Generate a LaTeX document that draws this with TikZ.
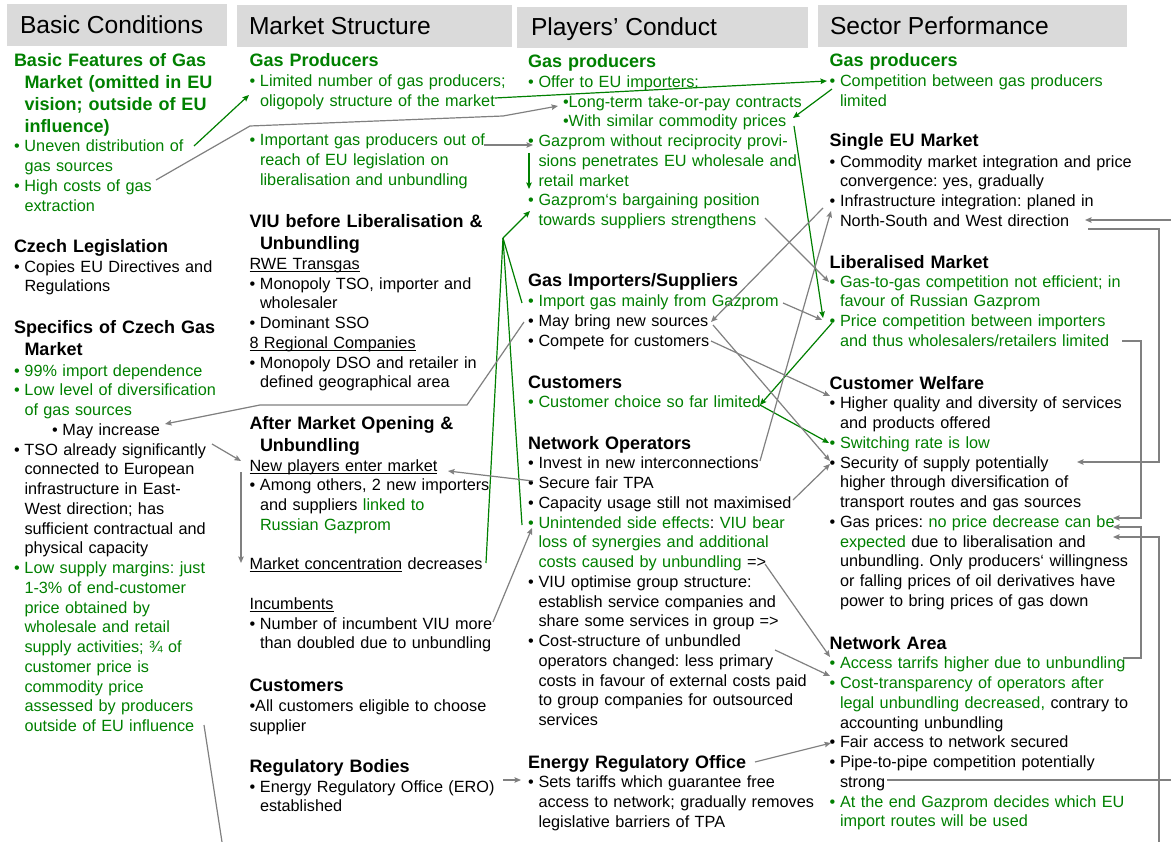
\documentclass[tikz,border=0pt]{standalone}
\usepackage{fontspec}
\setmainfont{Liberation Sans}
\usetikzlibrary{arrows.meta}
\definecolor{gr}{RGB}{0,128,0}
\definecolor{ln}{RGB}{128,128,128}
\definecolor{hdr}{RGB}{218,218,218}
\newcommand\bu{\makebox[10.5pt][l]{\textbullet}}
\newcommand\ind{\hspace*{10.5pt}}
\newcommand\g[1]{\textcolor{gr}{#1}}
\newcommand\ulx[1]{\leavevmode\setbox0\hbox{#1}\rlap{\rule[-2.3pt]{\wd0}{0.8pt}}\box0\relax}
\newcommand\hdfont{\fontsize{18.0}{22}\selectfont\bfseries\frenchspacing}
\newcommand\bdfont{\fontsize{16.25}{19.75}\selectfont\frenchspacing}
\tikzset{
  hbox/.style={fill=hdr, draw=none, inner sep=0pt, outer sep=0pt},
  ttl/.style={anchor=base west, inner sep=0pt, outer sep=0pt, font=\fontsize{24.6}{28}\selectfont},
  hd/.style={anchor=base west, inner sep=0pt, outer sep=0pt, text width=420pt, align=left, font=\hdfont},
  body/.style={anchor=base west, inner sep=0pt, outer sep=0pt, text width=420pt, align=left, font=\bdfont},
  gline/.style={draw=gr, line width=1.2pt},
  garr/.style={gline, -{Stealth[length=6.5pt,width=5.5pt,inset=1pt]}},
  kline/.style={draw=ln, line width=1.2pt},
  karr/.style={kline, -{Stealth[length=6.5pt,width=5.5pt,inset=1pt]}}
}
\begin{document}
\lineskiplimit=-50pt
\begin{tikzpicture}[x=1pt,y=-1pt]
\useasboundingbox (0,0) rectangle (1171,842);
\fill[white] (0,0) rectangle (1171,842);

% header boxes
\node[hbox, minimum width=220pt, minimum height=42pt] (hb1) at (117,25) {};
\node[hbox, minimum width=275pt, minimum height=42pt] (hb2) at (374.5,26) {};
\node[hbox, minimum width=291pt, minimum height=41pt] (hb3) at (662.5,27.5) {};
\node[hbox, minimum width=309pt, minimum height=42pt] (hb4) at (972.5,26) {};
\node[ttl] (t1) at (20,34) {Basic Conditions};
\node[ttl] (t2) at (249,35) {Market Structure};
\node[ttl] (t3) at (531,36) {Players’ Conduct};
\node[ttl] (t4) at (830,35) {Sector Performance};

% column 1
\node[hd, text=gr] (h11) at (14,66.5) {Basic Features of Gas\\\ind Market (omitted in EU\\\ind vision; outside of EU\\\ind influence)};
\node[body, text=gr] (b11) at (14,152) {\bu Uneven distribution of\\\ind gas sources\\\bu High costs of gas\\\ind extraction};
\node[hd] (h12) at (14,252.5) {Czech Legislation};
\node[body] (b12) at (14,272.2) {\bu Copies EU Directives and\\\ind Regulations};
\node[hd] (h13) at (14,333.2) {Specifics of Czech Gas\\\ind Market};
\node[body] (b13) at (14,376.2) {\g{\bu 99\% import dependence}\\
\g{\bu Low level of diversification}\\
\g{\ind of gas sources}\\
\hspace*{38pt}\bu May increase\\
\bu TSO already significantly\\
\ind connected to European\\
\ind infrastructure in East-\\
\ind West direction; has\\
\ind sufficient contractual and\\
\ind physical capacity\\
\g{\bu Low supply margins: just}\\
\g{\ind 1-3\% of end-customer}\\
\g{\ind price obtained by}\\
\g{\ind wholesale and retail}\\
\g{\ind supply activities; ¾ of}\\
\g{\ind customer price is}\\
\g{\ind commodity price}\\
\g{\ind assessed by producers}\\
\g{\ind outside of EU influence}};

% column 2
\node[hd, text=gr] (h21) at (249.5,66.5) {Gas Producers};
\node[body, text=gr] (b21) at (249.5,86.5) {\bu Limited number of gas producers;\\
\ind oligopoly structure of the market\\
\mbox{}\\
\bu Important gas producers out of\\
\ind reach of EU legislation on\\
\ind liberalisation and unbundling};
\node[hd] (h22) at (249.5,227.5) {VIU before Liberalisation \&\\\ind Unbundling};
\node[body] (b22) at (249.5,269.5) {\ulx{RWE Transgas}\\
\bu Monopoly TSO, importer and\\
\ind wholesaler\\
\bu Dominant SSO\\
\ulx{8 Regional Companies}\\
\bu Monopoly DSO and retailer in\\
\ind defined geographical area};
\node[hd] (h23) at (249.5,429.8) {After Market Opening \&\\\ind Unbundling};
\node[body] (b23) at (249.5,471.2) {\ulx{New players enter market}\\
\bu Among others, 2 new importers\\
\ind and suppliers \g{linked to}\\
\g{\ind Russian Gazprom}\\
\mbox{}\\
\ulx{Market concentration} decreases\\
\mbox{}\\
\ulx{Incumbents}\\
\bu Number of incumbent VIU more\\
\ind than doubled due to unbundling};
\node[hd] (h24) at (249.5,691.5) {Customers};
\node[body] (b24) at (249.5,711.3) {\textbullet All customers eligible to choose\\supplier};
\node[hd] (h25) at (249.5,772.5) {Regulatory Bodies};
\node[body] (b25) at (249.5,792.2) {\bu Energy Regulatory Office (ERO)\\\ind established};

% column 3
\node[hd, text=gr] (h31) at (528,67.5) {Gas producers};
\node[body, text=gr] (b31) at (528,87.3) {\bu Offer to EU importers:\\
\hspace*{35pt}\textbullet Long-term take-or-pay contracts\\
\hspace*{35pt}\textbullet With similar commodity prices\\
\bu Gazprom without reciprocity provi-\\
\ind sions penetrates EU wholesale and\\
\ind retail market\\
\bu Gazprom‘s bargaining position\\
\ind towards suppliers strengthens};
\node[hd] (h32) at (528,287) {Gas Importers/Suppliers};
\node[body] (b32) at (528,307) {\g{\bu Import gas mainly from Gazprom}\\
\bu May bring new sources\\
\bu Compete for customers};
\node[hd] (h33) at (528,388.2) {Customers};
\node[body] (b33) at (528,407.5) {\g{\bu Customer choice so far limited}};
\node[hd] (h34) at (528,449.2) {Network Operators};
\node[body] (b34) at (528,468.8) {\bu Invest in new interconnections\\
\bu Secure fair TPA\\
\bu Capacity usage still not maximised\\
\g{\bu Unintended side effects}: \g{VIU bear}\\
\g{\ind loss of synergies and additional}\\
\g{\ind costs caused by unbundling} =>\\
\bu VIU optimise group structure:\\
\ind establish service companies and\\
\ind share some services in group =>\\
\bu Cost-structure of unbundled\\
\ind operators changed: less primary\\
\ind costs in favour of external costs paid\\
\ind to group companies for outsourced\\
\ind services};
\node[hd] (h35) at (528,768.2) {Energy Regulatory Office};
\node[body] (b35) at (528,787.8) {\bu Sets tariffs which guarantee free\\
\ind access to network; gradually removes\\
\ind legislative barriers of TPA};

% column 4
\node[hd, text=gr] (h41) at (829.5,66.5) {Gas producers};
\node[body, text=gr] (b41) at (829.5,86.5) {\bu Competition between gas producers\\\ind limited};
\node[hd] (h42) at (829.5,146.5) {Single EU Market};
\node[body] (b42) at (829.5,167.2) {\bu Commodity market integration and price\\
\ind convergence: yes, gradually\\
\bu Infrastructure integration: planed in\\
\ind North-South and West direction};
\node[hd] (h43) at (829.5,268.2) {Liberalised Market};
\node[body, text=gr] (b43) at (829.5,287.2) {\bu Gas-to-gas competition not efficient; in\\
\ind favour of Russian Gazprom\\
\bu Price competition between importers\\
\ind and thus wholesalers/retailers limited};
\node[hd] (h44) at (829.5,389.2) {Customer Welfare};
\node[body] (b44) at (829.5,408.8) {\bu Higher quality and diversity of services\\
\ind and products offered\\
\g{\bu Switching rate is low}\\
\bu Security of supply potentially\\
\ind higher through diversification of\\
\ind transport routes and gas sources\\
\bu Gas prices: \g{no price decrease can be}\\
\g{\ind expected} due to liberalisation and\\
\ind unbundling. Only producers‘ willingness\\
\ind or falling prices of oil derivatives have\\
\ind power to bring prices of gas down};
\node[hd] (h45) at (829.5,649.2) {Network Area};
\node[body] (b45) at (829.5,668.8) {\g{\bu Access tarrifs higher due to unbundling}\\
\g{\bu Cost-transparency of operators after}\\
\g{\ind legal unbundling decreased,} contrary to\\
\ind accounting unbundling\\
\bu Fair access to network secured\\
\bu Pipe-to-pipe competition potentially\\
\ind strong\\
\g{\bu At the end Gazprom decides which EU}\\
\g{\ind import routes will be used}};

% connector end points
\coordinate (g1s) at (194,146);  \coordinate (g1t) at (249,95);
\coordinate (g2s) at (495,98);   \coordinate (g2t) at (827,81);
\coordinate (g3s) at (832,89);   \coordinate (g3t) at (793,118);
\coordinate (g4s) at (794,126);  \coordinate (g4t) at (823,318);
\coordinate (g5s) at (529,153);  \coordinate (g5t) at (529,189);
\coordinate (apex) at (503,238); \coordinate (g6t) at (530,211);
\coordinate (fan1) at (522,303); \coordinate (fan2) at (522,525); \coordinate (fan3) at (486,563);
\coordinate (g7s) at (832,323);  \coordinate (lim) at (760,405);
\coordinate (g8t) at (829,443);

\coordinate (k1s) at (156,180); \coordinate (k1a) at (250,126); \coordinate (k1b) at (503,116); \coordinate (k1t) at (558,106);
\coordinate (k2s) at (484,145); \coordinate (k2t) at (533,145);
\coordinate (k3s) at (765,218); \coordinate (k3t) at (829,282);
\coordinate (k4s) at (823,208); \coordinate (k4t) at (711,322);
\coordinate (k5s) at (783,303); \coordinate (k5t) at (822,320);
\coordinate (k6s) at (713,325); \coordinate (k6t) at (830,461);
\coordinate (k7s) at (711,341); \coordinate (k7t) at (830,396);
\coordinate (k9s) at (760,461); \coordinate (k9t) at (831,211);
\coordinate (k10s) at (533,481); \coordinate (k10t) at (448,471);
\coordinate (k11s) at (793,500); \coordinate (k11t) at (830,464);
\coordinate (k12s) at (493,622); \coordinate (k12t) at (532,528);
\coordinate (k13s) at (765,564); \coordinate (k13t) at (830,657);
\coordinate (k14s) at (775,650); \coordinate (k14t) at (830,676);
\coordinate (k15s) at (755,762); \coordinate (k15t) at (831,743);
\coordinate (k16s) at (503,780); \coordinate (k16t) at (521,780);
\coordinate (k17s) at (524,322); \coordinate (k17a) at (467,405); \coordinate (k17b) at (260,405); \coordinate (k17t) at (165,424);
\coordinate (k18s) at (212,444); \coordinate (k18t) at (241,461);
\coordinate (k19s) at (241,472); \coordinate (k19t) at (241,563);
\coordinate (k20s) at (204,725); \coordinate (k20t) at (222,842);
\coordinate (r1s) at (1171,220); \coordinate (r1t) at (1085,220);
\coordinate (r2s) at (1088,229); \coordinate (r2a) at (1159,229); \coordinate (r2b) at (1159,462); \coordinate (r2t) at (1077,462);
\coordinate (r3s) at (1122,341); \coordinate (r3a) at (1141,341); \coordinate (r3b) at (1141,518); \coordinate (r3t) at (1113,518);
\coordinate (r4s) at (1123,658); \coordinate (r4a) at (1141,658); \coordinate (r4b) at (1141,527); \coordinate (r4t) at (1113,527);
\coordinate (r5s) at (1159,842); \coordinate (r5a) at (1159,537); \coordinate (r5t) at (1113,537);
\coordinate (r6s) at (887,780); \coordinate (r6t) at (1171,780);

% green connectors
\draw[garr] (g1s) -- (g1t);
\draw[garr] (g2s) -- (g2t);
\draw[garr] (g3s) -- (g3t);
\draw[garr] (g4s) -- (g4t);
\draw[garr] (g5s) -- (g5t);
\draw[gline] (fan1) -- (apex);
\draw[gline] (fan2) -- (apex);
\draw[gline] (fan3) -- (apex);
\draw[garr] (apex) -- (g6t);
\draw[garr] (g7s) -- (lim);
\draw[garr] (lim) -- (g8t);

% gray connectors
\draw[karr] (k1s) -- (k1a) -- (k1b) -- (k1t);
\draw[karr] (k2s) -- (k2t);
\draw[karr] (k3s) -- (k3t);
\draw[karr] (k4s) -- (k4t);
\draw[karr] (k5s) -- (k5t);
\draw[karr] (k6s) -- (k6t);
\draw[karr] (k7s) -- (k7t);
\draw[karr] (k9s) -- (k9t);
\draw[karr] (k10s) -- (k10t);
\draw[karr] (k11s) -- (k11t);
\draw[karr] (k12s) -- (k12t);
\draw[karr] (k13s) -- (k13t);
\draw[karr] (k14s) -- (k14t);
\draw[karr] (k15s) -- (k15t);
\draw[karr] (k16s) -- (k16t);
\draw[karr] (k17s) -- (k17a) -- (k17b) -- (k17t);
\draw[karr] (k18s) -- (k18t);
\draw[karr] (k19s) -- (k19t);
\draw[kline] (k20s) -- (k20t);
\draw[karr] (r1s) -- (r1t);
\draw[karr] (r2s) -- (r2a) -- (r2b) -- (r2t);
\draw[karr] (r3s) -- (r3a) -- (r3b) -- (r3t);
\draw[karr] (r4s) -- (r4a) -- (r4b) -- (r4t);
\draw[karr] (r5s) -- (r5a) -- (r5t);
\draw[kline] (r6s) -- (r6t);
\end{tikzpicture}
\end{document}
